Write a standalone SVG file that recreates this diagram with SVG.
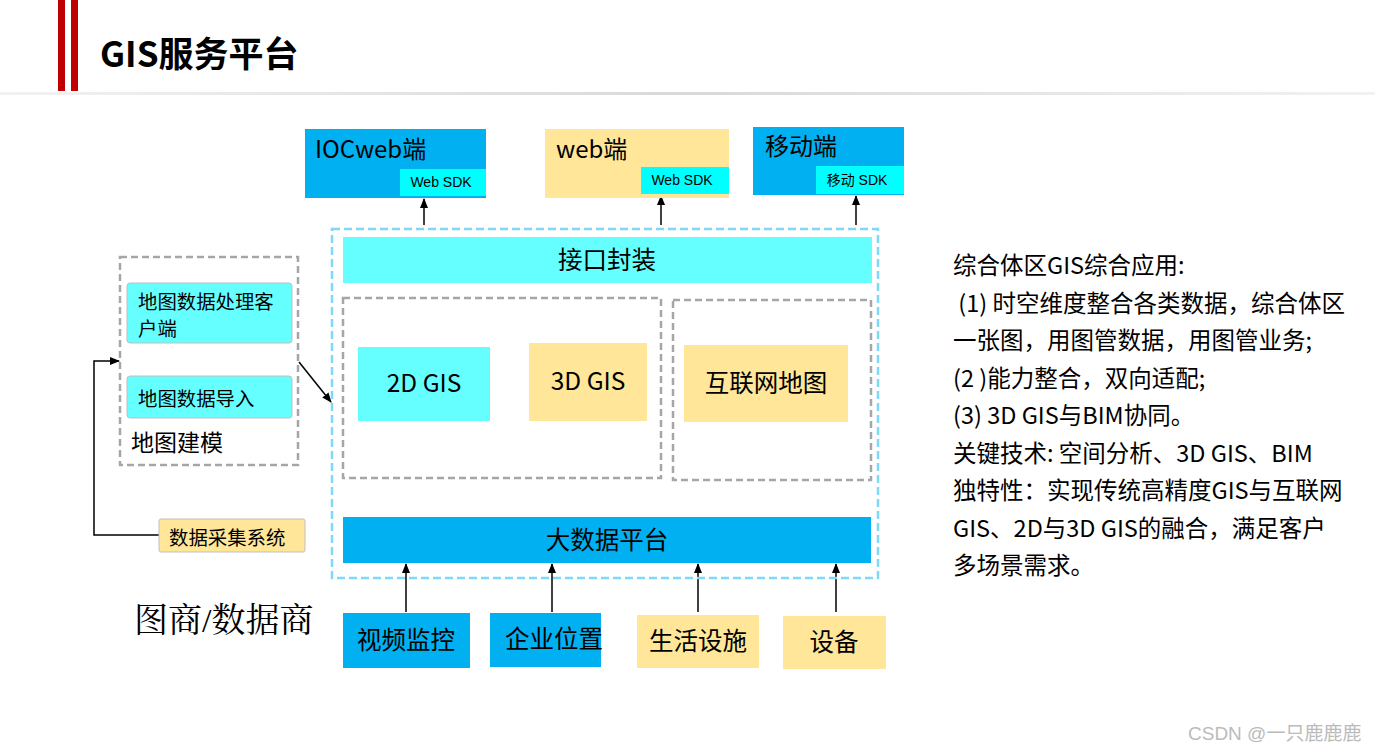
<svg xmlns="http://www.w3.org/2000/svg" width="1375" height="752" viewBox="0 0 1375 752">
<style>
text{font-family:"Noto Sans CJK SC","Noto Sans",sans-serif;fill:#000}
.t24{font-size:24.5px}
.top{font-size:24px}
.t19{font-size:19.4px}
.sdk{font-size:14px;font-family:"Liberation Sans","Noto Sans CJK SC",sans-serif}
.blue{fill:#00B0F0}
.cyan{fill:#66FFFF}
.aqua{fill:#00FFFF}
.yel{fill:#FFE699}
.gdash{fill:none;stroke:#A6A6A6;stroke-width:2.5;stroke-dasharray:7 4}
.bdash{fill:none;stroke:#7FD8F7;stroke-width:2.5;stroke-dasharray:8 4}
.conn{fill:none;stroke:#000;stroke-width:1.5}
.mid{text-anchor:middle}
</style>
<defs>
<marker id="ah" markerWidth="10" markerHeight="10" refX="9" refY="5" orient="auto" markerUnits="userSpaceOnUse">
<path d="M0,1 L10,5 L0,9 Z" fill="#000"/>
</marker>
<linearGradient id="hl" x1="0" x2="1" y1="0" y2="0">
<stop offset="0" stop-color="#f2f2f2"/>
<stop offset="0.5" stop-color="#d9d9d9"/>
<stop offset="1" stop-color="#f2f2f2"/>
</linearGradient>
</defs>

<g id="header">
<rect x="0" y="92" width="1375" height="3" fill="url(#hl)"/>
<rect x="58" y="0" width="7" height="91" fill="#C00000"/>
<rect x="71" y="0" width="7" height="91" fill="#C00000"/>
<text x="100" y="67" style="font-size:35px;font-weight:bold">GIS服务平台</text>
</g>

<g id="connectors">
<line x1="424" y1="225" x2="424" y2="199" class="conn" marker-end="url(#ah)"/>
<line x1="661" y1="225" x2="661" y2="196" class="conn" marker-end="url(#ah)"/>
<line x1="856" y1="225" x2="856" y2="196" class="conn" marker-end="url(#ah)"/>
<line x1="406" y1="612" x2="406" y2="564" class="conn" marker-end="url(#ah)"/>
<line x1="552" y1="612" x2="552" y2="564" class="conn" marker-end="url(#ah)"/>
<line x1="698" y1="612" x2="698" y2="564" class="conn" marker-end="url(#ah)"/>
<line x1="836" y1="612" x2="836" y2="564" class="conn" marker-end="url(#ah)"/>
<line x1="299" y1="362" x2="331" y2="402" class="conn" marker-end="url(#ah)"/>
<polyline points="159,535 94,535 94,361 119,361" class="conn" marker-end="url(#ah)"/>
</g>

<g id="ioc-web">
<rect x="305" y="129" width="181" height="69" class="blue"/>
<text x="315" y="158" class="top">IOCweb端</text>
<rect x="400" y="169" width="86" height="27" class="aqua"/>
<text x="441" y="187" class="sdk mid">Web SDK</text>
</g>
<g id="web">
<rect x="545" y="129" width="184" height="69" class="yel"/>
<text x="556" y="158" class="top">web端</text>
<rect x="641" y="167" width="88" height="27" class="aqua"/>
<text x="682" y="185" class="sdk mid">Web SDK</text>
</g>
<g id="mobile">
<rect x="753" y="127" width="151" height="68" class="blue"/>
<text x="765" y="155" class="top">移动端</text>
<rect x="816" y="166" width="88" height="28" class="aqua"/>
<text x="857" y="185" class="sdk mid">移动 SDK</text>
</g>

<g id="platform">
<rect x="332" y="229" width="546" height="349" class="bdash"/>
</g>
<g id="api">
<rect x="343" y="237" width="529" height="46" class="cyan"/>
<text x="607" y="269" class="t24 mid">接口封装</text>
</g>
<g id="gis-group">
<rect x="343" y="298" width="318" height="180" class="gdash"/>
</g>
<g id="gis2d">
<rect x="358" y="347" width="132" height="74" class="cyan"/>
<text x="424" y="392" class="t24 mid">2D GIS</text>
</g>
<g id="gis3d">
<rect x="529" y="343" width="118" height="78" class="yel"/>
<text x="588" y="390" class="t24 mid">3D GIS</text>
</g>
<g id="internet-group">
<rect x="673" y="300" width="198" height="180" class="gdash"/>
</g>
<g id="internet-map">
<rect x="684" y="345" width="164" height="77" class="yel"/>
<text x="766" y="392" class="t24 mid">互联网地图</text>
</g>
<g id="bigdata">
<rect x="343" y="517" width="528" height="46" class="blue"/>
<text x="607" y="549" class="t24 mid">大数据平台</text>
</g>

<g id="video">
<rect x="343" y="613" width="127" height="55" class="blue"/>
<text x="406" y="649" class="t24 mid">视频监控</text>
</g>
<g id="enterprise">
<rect x="490" y="613" width="111" height="54" class="blue"/>
<text x="554" y="648" class="t24 mid">企业位置</text>
</g>
<g id="facilities">
<rect x="637" y="615" width="122" height="53" class="yel"/>
<text x="698" y="650" class="t24 mid">生活设施</text>
</g>
<g id="devices">
<rect x="783" y="616" width="103" height="53" class="yel"/>
<text x="834" y="651" class="t24 mid">设备</text>
</g>

<g id="modeling">
<rect x="120" y="257" width="178" height="208" class="gdash"/>
<text x="131" y="451" style="font-size:23px">地图建模</text>
</g>
<g id="map-client">
<rect x="127" y="283" width="165" height="60" rx="3" class="cyan" stroke="#BFBFBF" stroke-width="1"/>
<text x="138" y="309" class="t19">地图数据处理客</text>
<text x="138" y="336" class="t19">户端</text>
</g>
<g id="map-import">
<rect x="127" y="376" width="165" height="42" rx="3" class="cyan" stroke="#BFBFBF" stroke-width="1"/>
<text x="138" y="406" class="t19">地图数据导入</text>
</g>
<g id="collect">
<rect x="159" y="519" width="146" height="33" rx="2" class="yel" stroke="#BFBFBF" stroke-width="1"/>
<text x="169" y="545" class="t19">数据采集系统</text>
</g>

<g id="vendor">
<text x="134" y="632" style='font-size:34px;font-family:"Liberation Serif","Noto Serif CJK SC","Noto Sans CJK SC",serif'>图商/数据商</text>
</g>

<g id="description" style="font-size:23.5px">
<text x="953" y="274">综合体区GIS综合应用:</text>
<text x="953" y="312" xml:space="preserve"> (1) 时空维度整合各类数据，综合体区</text>
<text x="953" y="349">一张图，用图管数据，用图管业务;</text>
<text x="953" y="387">(2 )能力整合，双向适配;</text>
<text x="953" y="424">(3) 3D GIS与BIM协同。</text>
<text x="953" y="462">关键技术: 空间分析、3D GIS、BIM</text>
<text x="953" y="499">独特性：实现传统高精度GIS与互联网</text>
<text x="953" y="537">GIS、2D与3D GIS的融合，满足客户</text>
<text x="953" y="574">多场景需求。</text>
</g>

<g id="watermark">
<text x="1188" y="740" style='font-size:19px;fill:#BBBBBB;font-family:"Liberation Sans","Noto Sans CJK SC",sans-serif'>CSDN @一只鹿鹿鹿</text>
</g>
</svg>
